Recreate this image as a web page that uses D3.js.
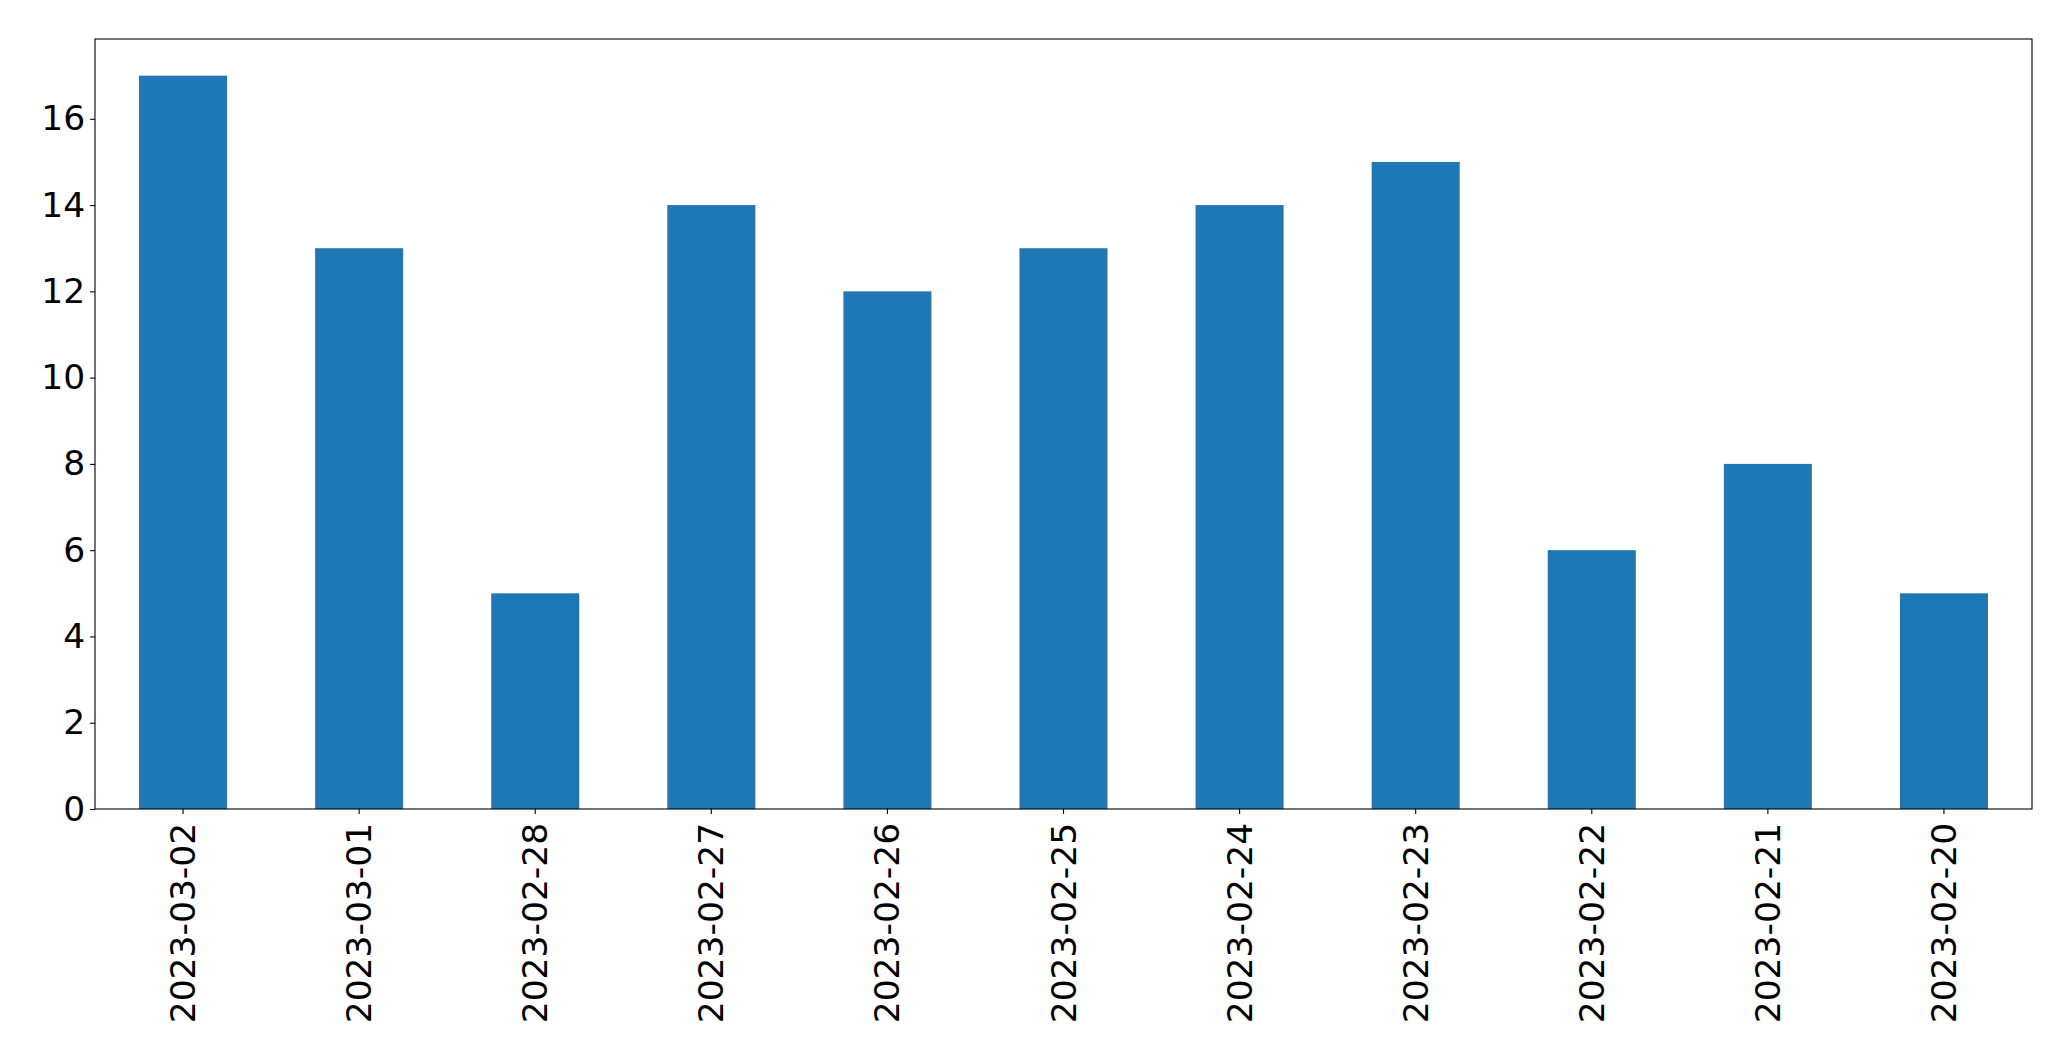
<!DOCTYPE html>
<html>
<head>
<meta charset="utf-8">
<script src="https://cdn.jsdelivr.net/npm/d3@7"></script>
<style>
  html, body { margin: 0; padding: 0; background: #fff; }
  svg { display: block; }
  text { font-family: "DejaVu Sans", sans-serif; fill: #000; }
</style>
</head>
<body>
<script>
const categories = ["2023-03-02","2023-03-01","2023-02-28","2023-02-27","2023-02-26","2023-02-25","2023-02-24","2023-02-23","2023-02-22","2023-02-21","2023-02-20"];
const values = [17, 13, 5, 14, 12, 13, 14, 15, 6, 8, 5];
const yTicks = [0, 2, 4, 6, 8, 10, 12, 14, 16];

const W = 2071, H = 1061;
const plotLeft = 95, plotTop = 39, plotRight = 2032, plotBottom = 809;
const fontSize = 34.5;
const tickLen = 4.9, pad = 4.9;

const svg = d3.select("body").append("svg").attr("width", W).attr("height", H);

const x = d3.scaleBand().domain(categories).range([plotLeft, plotRight]).paddingInner(0.5).paddingOuter(0.25);
const y = d3.scaleLinear().domain([0, d3.max(values) * 1.05]).range([plotBottom, plotTop]);

svg.append("g").selectAll("rect").data(values).join("rect")
  .attr("x", (d, i) => x(categories[i]))
  .attr("width", x.bandwidth())
  .attr("y", d => y(d))
  .attr("height", d => y(0) - y(d))
  .attr("fill", "#1f77b4");

// frame
svg.append("rect")
  .attr("x", plotLeft).attr("y", plotTop)
  .attr("width", plotRight - plotLeft).attr("height", plotBottom - plotTop)
  .attr("fill", "none").attr("stroke", "#000").attr("stroke-width", 1.1);

// y axis
const yAxis = d3.axisLeft(y).tickValues(yTicks).tickSize(tickLen).tickPadding(pad).tickFormat(d3.format("d"));
const gy = svg.append("g").attr("transform", `translate(${plotLeft},0)`).call(yAxis);
gy.select(".domain").remove();
gy.selectAll(".tick line").attr("stroke", "#000").attr("stroke-width", 1.1);
gy.selectAll(".tick text").attr("font-size", fontSize).attr("font-family", "DejaVu Sans").attr("fill", "#000");

// x axis
const xAxis = d3.axisBottom(x).tickSize(tickLen).tickPadding(pad);
const gx = svg.append("g").attr("transform", `translate(0,${plotBottom})`).call(xAxis);
gx.select(".domain").remove();
gx.selectAll(".tick line").attr("stroke", "#000").attr("stroke-width", 1.1);
gx.selectAll(".tick text")
  .attr("font-size", fontSize).attr("font-family", "DejaVu Sans").attr("fill", "#000")
  .attr("text-anchor", "end")
  .attr("transform", `translate(0,${tickLen + pad + 4}) rotate(-90)`)
  .attr("x", 0).attr("y", 0).attr("dy", "0.35em");
</script>
</body>
</html>
